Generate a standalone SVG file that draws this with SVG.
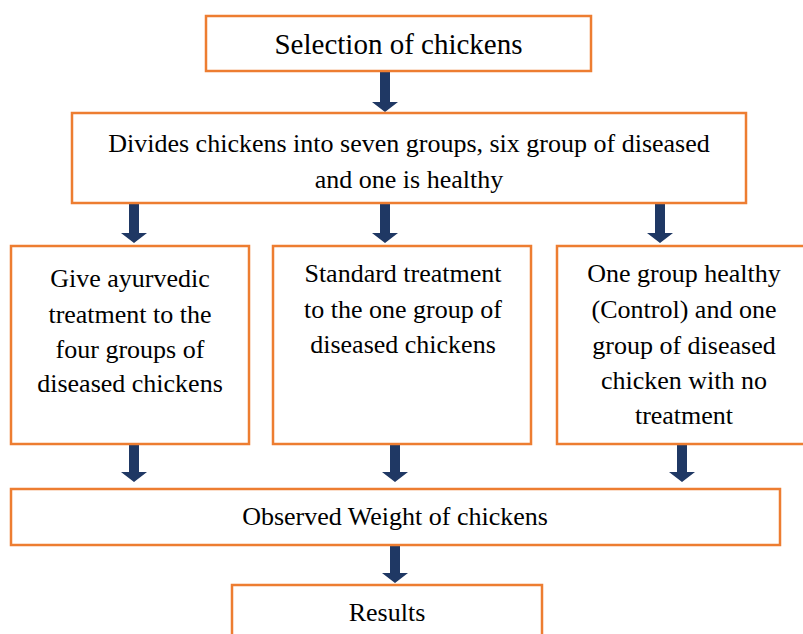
<svg xmlns="http://www.w3.org/2000/svg" width="803" height="634" viewBox="0 0 803 634">
<defs>
<style>
.box{fill:#fff;stroke:#ED7D31;stroke-width:2.5}
.t{font-family:"Liberation Serif","Times New Roman","DejaVu Serif",serif;font-size:26px;fill:#000;text-anchor:middle}
.h{font-size:29px}
.arr{fill:#1F3864}
</style>
<path id="ar" d="M-5,0 H5 V30 H13 L0,40 L-13,30 H-5 Z"/>
</defs>
<rect width="803" height="634" fill="#fff"/>
<g id="connectors">
<use href="#ar" class="arr" x="385" y="72"/>
<use href="#ar" class="arr" x="134" y="203"/>
<use href="#ar" class="arr" x="385" y="203"/>
<use href="#ar" class="arr" x="660" y="203"/>
<use href="#ar" class="arr" x="134" y="442"/>
<use href="#ar" class="arr" x="395" y="442"/>
<use href="#ar" class="arr" x="682" y="442"/>
<use href="#ar" class="arr" x="395" y="543"/>
</g>
<g id="n1"><rect class="box" x="206" y="16" width="385" height="55"/><text class="t h" x="398.5" y="54">Selection of chickens</text></g>
<g id="n2"><rect class="box" x="72" y="113" width="674" height="90"/><text class="t" x="409" y="152">Divides chickens into seven groups, six group of diseased</text><text class="t" x="409" y="188">and one is healthy</text></g>
<g id="n3"><rect class="box" x="11" y="246" width="238" height="198"/><text class="t" x="130" y="287">Give ayurvedic</text><text class="t" x="130" y="323">treatment to the</text><text class="t" x="130" y="358">four groups of</text><text class="t" x="130" y="392">diseased chickens</text></g>
<g id="n4"><rect class="box" x="273" y="246" width="258" height="198"/><text class="t" x="403" y="282">Standard treatment</text><text class="t" x="403" y="318">to the one group of</text><text class="t" x="403" y="353">diseased chickens</text></g>
<g id="n5"><rect class="box" x="557" y="246" width="250" height="198"/><text class="t" x="684" y="282">One group healthy</text><text class="t" x="684" y="318">(Control) and one</text><text class="t" x="684" y="354">group of diseased</text><text class="t" x="684" y="389">chicken with no</text><text class="t" x="684" y="424">treatment</text></g>
<g id="n6"><rect class="box" x="11" y="489" width="769" height="56"/><text class="t" x="395" y="525">Observed Weight of chickens</text></g>
<g id="n7"><rect class="box" x="232" y="585" width="310" height="60"/><text class="t" x="387" y="621">Results</text></g>
</svg>
